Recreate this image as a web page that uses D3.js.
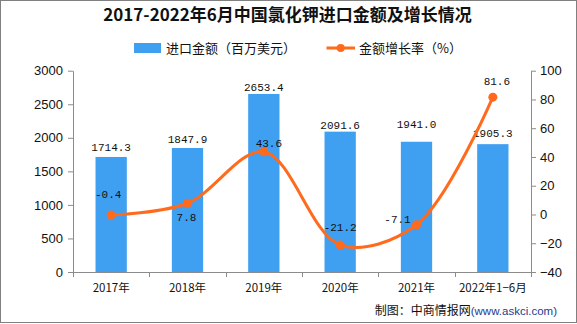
<!DOCTYPE html>
<html><head><meta charset="utf-8">
<script src="https://cdn.jsdelivr.net/npm/d3@7/dist/d3.min.js"></script>
<style>
html,body{margin:0;padding:0;background:#fff;}
svg{display:block;}
</style></head>
<body>
<svg id="chart" width="577" height="324"></svg>
<script>
const categories = ["2017年","2018年","2019年","2020年","2021年","2022年1−6月"];
const importValues = [1714.3, 1847.9, 2653.4, 2091.6, 1941.0, 1905.3];
const growthRates = [-0.4, 7.8, 43.6, -21.2, -7.1, 81.6];
const leftTicks = [0, 500, 1000, 1500, 2000, 2500, 3000];
const rightTicks = [-40, -20, 0, 20, 40, 60, 80, 100];
const titleText = "2017-2022年6月中国氯化钾进口金额及增长情况";
const legendBar = "进口金额（百万美元）";
const legendLine = "金额增长率（%）";
const sourceMain = "制图：中商情报网";
const sourceUrl = "(www.askci.com)";

// label placement offsets (label center relative to mark)
const barLabelLift = [9.6, 8.7, 6.8, 7, 18, 11.5];
const rateLabelOffset = [[-3,-21],[-1,14],[5,-9],[0,-18],[-19,-6],[4,-16]];

const svg = d3.select("#chart");
const W = 577, H = 324;
const plotL = 73, plotR = 531, plotT = 70.7, plotB = 272;
const barColor = "#3f9ff1", lineColor = "#ff6a1c", axisColor = "#8c8c8c";
const cjk = "'Noto Sans CJK SC','Noto Sans',sans-serif";
const num = "'Liberation Mono','DejaVu Sans Mono',monospace";
const tickFont = "'Liberation Sans',Arial,sans-serif";

svg.append("rect").attr("width",W).attr("height",H).attr("fill","#fff");

const x = d3.scaleBand().domain(categories).range([plotL, plotR]).paddingInner(0).paddingOuter(0);
const yL = d3.scaleLinear().domain([0,3000]).range([plotB, plotT]);
const yR = d3.scaleLinear().domain([-40,100]).range([plotB, plotT]);
const barW = x.bandwidth()*0.41;

// title
svg.append("text").attr("x", 287.5).attr("y", 21)
  .attr("text-anchor","middle").attr("font-family",cjk).attr("font-weight",700)
  .attr("font-size",17).attr("fill","#111").text(titleText);

// legend
const lg = svg.append("g");
lg.append("rect").attr("x",134).attr("y",43).attr("width",27).attr("height",10).attr("fill",barColor);
lg.append("text").attr("x",166).attr("y",52.5).attr("font-family",cjk).attr("font-size",13).attr("fill","#111").text(legendBar);
lg.append("line").attr("x1",326.5).attr("x2",355).attr("y1",48).attr("y2",48).attr("stroke",lineColor).attr("stroke-width",3);
lg.append("circle").attr("cx",340.7).attr("cy",48).attr("r",4).attr("fill",lineColor);
lg.append("text").attr("x",359).attr("y",52.5).attr("font-family",cjk).attr("font-size",13).attr("fill","#111").text(legendLine);

// bars
svg.append("g").selectAll("rect").data(importValues).join("rect")
  .attr("x",(d,i)=>x(categories[i]) + (x.bandwidth()-barW)/2)
  .attr("y",d=>yL(d)).attr("width",barW).attr("height",d=>plotB - yL(d))
  .attr("fill",barColor);

// axes
const axL = svg.append("g").attr("transform",`translate(${plotL},0)`)
  .call(d3.axisLeft(yL).tickValues(leftTicks).tickSize(5).tickSizeOuter(0).tickPadding(5).tickFormat(d3.format("d")));
const axR = svg.append("g").attr("transform",`translate(${plotR},0)`)
  .call(d3.axisRight(yR).tickValues(rightTicks).tickSize(5).tickSizeOuter(0).tickPadding(4).tickFormat(d=> d<0 ? "−"+Math.abs(d) : d));
[axL, axR].forEach(a=>{
  a.selectAll("path,line").attr("stroke",axisColor);
  a.selectAll("text").attr("font-family",tickFont).attr("font-size",13).attr("fill","#111");
});

// x axis
const xg = svg.append("g");
xg.append("line").attr("x1",plotL).attr("x2",plotR).attr("y1",plotB+0.5).attr("y2",plotB+0.5).attr("stroke",axisColor);
const bounds = categories.map(c=>x(c)).concat([x(categories[categories.length-1])+x.bandwidth()]);
xg.selectAll("line.t").data(bounds).join("line").attr("class","t")
  .attr("x1",d=>Math.round(d)+0.5).attr("x2",d=>Math.round(d)+0.5)
  .attr("y1",plotB).attr("y2",plotB+5).attr("stroke",axisColor);
xg.selectAll("text").data(categories).join("text")
  .attr("x",d=>x(d)+x.bandwidth()/2).attr("y",plotB+20)
  .attr("text-anchor","middle").attr("font-family",cjk).attr("font-size",11.5).attr("fill","#111").text(d=>d);

// bar labels
svg.append("g").selectAll("text").data(importValues).join("text")
  .attr("x",(d,i)=>x(categories[i])+x.bandwidth()/2)
  .attr("y",(d,i)=>yL(d)-barLabelLift[i]+4)
  .attr("text-anchor","middle").attr("font-family",num).attr("font-size",11).attr("fill","#111")
  .text(d=>d.toFixed(1));

// line
const pts = growthRates.map((v,i)=>[x(categories[i])+x.bandwidth()/2, yR(v)]);
svg.append("path").attr("d", d3.line().curve(d3.curveCatmullRom.alpha(0.5))(pts))
  .attr("fill","none").attr("stroke",lineColor).attr("stroke-width",3);
svg.append("g").selectAll("circle").data(pts).join("circle")
  .attr("cx",d=>d[0]).attr("cy",d=>d[1]).attr("r",4.5).attr("fill",lineColor);

// rate labels
svg.append("g").selectAll("text").data(growthRates).join("text")
  .attr("x",(d,i)=>pts[i][0]+rateLabelOffset[i][0])
  .attr("y",(d,i)=>pts[i][1]+rateLabelOffset[i][1]+4)
  .attr("text-anchor","middle").attr("font-family",num).attr("font-size",11).attr("fill","#111")
  .text(d=>d.toFixed(1));

// source
const src = svg.append("text").attr("x",557).attr("y",314.5).attr("text-anchor","end");
src.append("tspan").attr("font-family",cjk).attr("font-size",12).attr("fill","#111").text(sourceMain);
src.append("tspan").attr("font-family",tickFont).attr("font-size",11.5).attr("fill","#1f3a8f").text(sourceUrl);

// frame
svg.append("rect").attr("x",0.5).attr("y",0.5).attr("width",576).attr("height",322)
  .attr("fill","none").attr("stroke","#808080");
</script>
</body></html>
